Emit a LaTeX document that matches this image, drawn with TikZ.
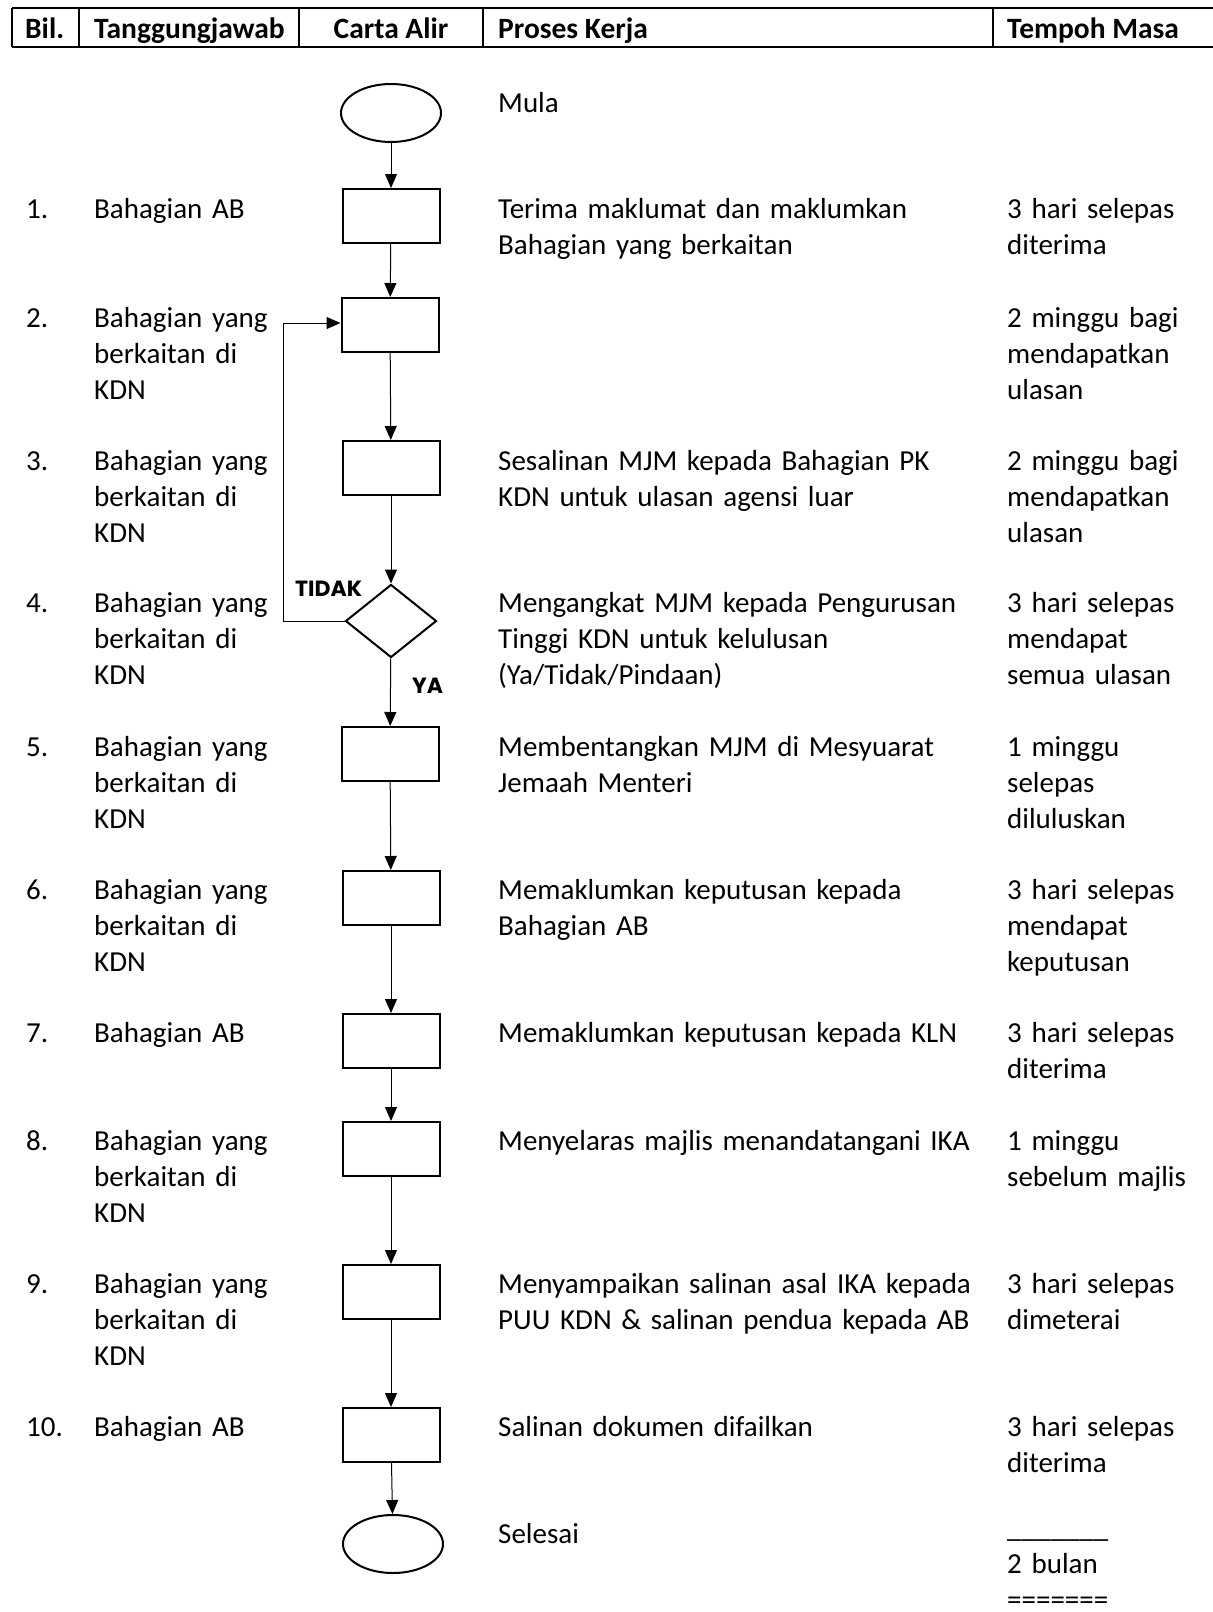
\documentclass[tikz,border=0pt]{standalone}
\usepackage{fontspec}
\setmainfont{Carlito}
\newfontfamily\gothic{Poppins}
\usetikzlibrary{shapes.geometric,arrows.meta}

\begin{document}
\begin{tikzpicture}[x=1pt,y=-1pt,
  font=\fontsize{29}{36}\selectfont,
  txt/.style={anchor=base west,inner sep=0pt,text width=700pt,align=left},
  head/.style={anchor=base west,inner sep=0pt,font=\fontsize{29.5}{36}\selectfont\bfseries},
  lbl/.style={anchor=base west,inner sep=0pt,font=\gothic\bfseries\fontsize{22}{26}\selectfont},
  box/.style={draw,line width=2pt,minimum width=97pt,minimum height=54pt,inner sep=0pt},
  term/.style={draw,ellipse,line width=2pt,minimum width=100pt,minimum height=58pt,inner sep=0pt},
  dec/.style={draw,diamond,line width=2pt,minimum width=91pt,minimum height=73pt,inner sep=0pt},
  hline/.style={line width=2.5pt},
  arr/.style={line width=1pt,-{Triangle[length=14pt,width=12pt]}}]
\useasboundingbox (0,0) rectangle (1213,1612);

% header row
\draw[hline] (12,8) -- (1213,8) (12,47) -- (1213,47);
\foreach \x in {12,79,299,483,993} \draw[hline] (\x,8) -- (\x,47);
\path node[head] (HB) at (25,38) {Bil.}
node[head] (HT) at (94,38) {Tanggungjawab}
node[head,anchor=base] (HC) at (391,38) {Carta Alir}
node[head] (HP) at (498,38) {Proses Kerja}
node[head] (HM) at (1007,38) {Tempoh Masa}
;

% flowchart
\path node[term] (MULA) at (391,113) {}
node[box] (B1) at (391,216) {}
node[box] (B2) at (390,325) {}
node[box] (B3) at (391,468) {}
node[dec] (D4) at (391,621) {}
node[box] (B5) at (390,754) {}
node[box] (B6) at (391,898) {}
node[box] (B7) at (391,1041) {}
node[box] (B8) at (391,1149) {}
node[box] (B9) at (391,1292) {}
node[box] (B10) at (391,1435) {}
node[term] (SELESAI) at (393,1544) {}
node[lbl] (TIDAK) at (295,596) {TIDAK}
node[lbl] (YA) at (412,693) {YA}
;
\coordinate (LOOP) at (283,323);
\draw[arr] (MULA) -- (B1);
\draw[arr] (B1) -- (B2);
\draw[arr] (B2) -- (B3);
\draw[arr] (B3) -- (D4);
\draw[arr] (D4) -- (B5);
\draw[arr] (B5) -- (B6);
\draw[arr] (B6) -- (B7);
\draw[arr] (B7) -- (B8);
\draw[arr] (B8) -- (B9);
\draw[arr] (B9) -- (B10);
\draw[arr] (B10) -- (SELESAI);
\draw[arr] (D4.west) -| (LOOP) -- (LOOP -| B2.west);

% bil.
\path node[txt] (N1) at (26,218) {1.}
node[txt] (N2) at (26,327) {2.}
node[txt] (N3) at (26,470) {3.}
node[txt] (N4) at (26,612) {4.}
node[txt] (N5) at (26,756) {5.}
node[txt] (N6) at (26,899) {6.}
node[txt] (N7) at (26,1042) {7.}
node[txt] (N8) at (26,1150) {8.}
node[txt] (N9) at (26,1293) {9.}
node[txt] (N10) at (26,1436) {10.}
;

% tanggungjawab
\path node[txt] (T1) at (94,218) {Bahagian AB}
node[txt] (T2) at (94,327) {Bahagian yang\\berkaitan di\\KDN}
node[txt] (T3) at (94,470) {Bahagian yang\\berkaitan di\\KDN}
node[txt] (T4) at (94,612) {Bahagian yang\\berkaitan di\\KDN}
node[txt] (T5) at (94,756) {Bahagian yang\\berkaitan di\\KDN}
node[txt] (T6) at (94,899) {Bahagian yang\\berkaitan di\\KDN}
node[txt] (T7) at (94,1042) {Bahagian AB}
node[txt] (T8) at (94,1150) {Bahagian yang\\berkaitan di\\KDN}
node[txt] (T9) at (94,1293) {Bahagian yang\\berkaitan di\\KDN}
node[txt] (T10) at (94,1436) {Bahagian AB}
;

% proses kerja
\path node[txt] (P0) at (498,112) {Mula}
node[txt] (P1) at (498,218) {Terima maklumat dan maklumkan\\Bahagian yang berkaitan}
node[txt] (P3) at (498,470) {Sesalinan MJM kepada Bahagian PK\\KDN untuk ulasan agensi luar}
node[txt] (P4) at (498,612) {Mengangkat MJM kepada Pengurusan\\Tinggi KDN untuk kelulusan\\(Ya/Tidak/Pindaan)}
node[txt] (P5) at (498,756) {Membentangkan MJM di Mesyuarat\\Jemaah Menteri}
node[txt] (P6) at (498,899) {Memaklumkan keputusan kepada\\Bahagian AB}
node[txt] (P7) at (498,1042) {Memaklumkan keputusan kepada KLN}
node[txt] (P8) at (498,1150) {Menyelaras majlis menandatangani IKA}
node[txt] (P9) at (498,1293) {Menyampaikan salinan asal IKA kepada\\PUU KDN \& salinan pendua kepada AB}
node[txt] (P10) at (498,1436) {Salinan dokumen difailkan}
node[txt] (P11) at (498,1543) {Selesai}
;

% tempoh masa
\path node[txt] (M1) at (1007,218) {3 hari selepas\\diterima}
node[txt] (M2) at (1007,327) {2 minggu bagi\\mendapatkan\\ulasan}
node[txt] (M3) at (1007,470) {2 minggu bagi\\mendapatkan\\ulasan}
node[txt] (M4) at (1007,612) {3 hari selepas\\mendapat\\semua ulasan}
node[txt] (M5) at (1007,756) {1 minggu\\selepas\\diluluskan}
node[txt] (M6) at (1007,899) {3 hari selepas\\mendapat\\keputusan}
node[txt] (M7) at (1007,1042) {3 hari selepas\\diterima}
node[txt] (M8) at (1007,1150) {1 minggu\\sebelum majlis}
node[txt] (M9) at (1007,1293) {3 hari selepas\\dimeterai}
node[txt] (M10) at (1007,1436) {3 hari selepas\\diterima}
node[txt] (M11) at (1007,1537) {\_\_\_\_\_\_\_\\2 bulan\\=======}
;
\end{tikzpicture}
\end{document}
